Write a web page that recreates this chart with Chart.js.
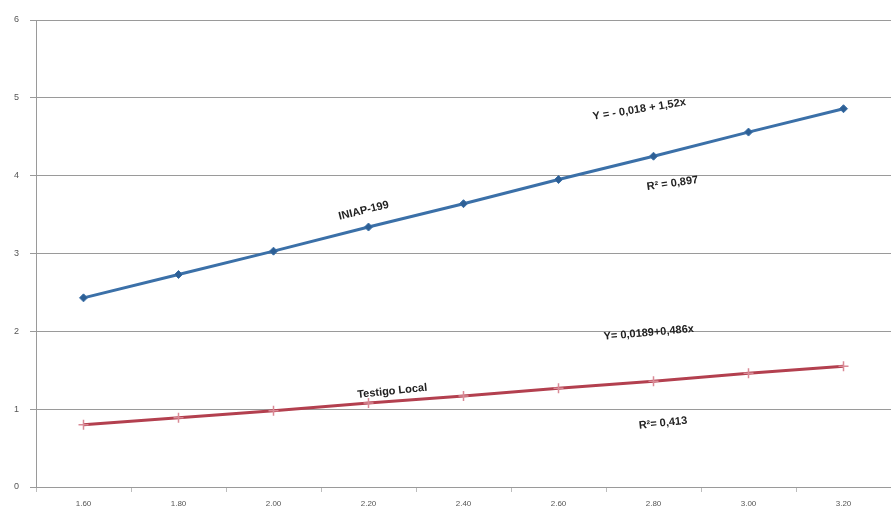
<!DOCTYPE html>
<html>
<head>
<meta charset="utf-8">
<script src="https://cdn.jsdelivr.net/npm/chart.js@4.4.1/dist/chart.umd.min.js"></script>
<style>
  html, body { margin: 0; padding: 0; background: #fff; overflow: hidden; }
  canvas { display: block; }
</style>
</head>
<body>
<canvas id="c" width="891" height="513"></canvas>
<script>
// values
var categories = ['1.60', '1.80', '2.00', '2.20', '2.40', '2.60', '2.80', '3.00', '3.20'];
var iniap = [2.43, 2.73, 3.03, 3.34, 3.64, 3.95, 4.25, 4.56, 4.86];
var testigo = [0.80, 0.89, 0.98, 1.08, 1.17, 1.27, 1.36, 1.46, 1.55];
var yTicks = [0, 1, 2, 3, 4, 5, 6];

// rotated labels written on the plot: x = category index, y = value
var notes = [
  { text: 'INIAP-199', x: 2.95, y: 3.55, rot: -14, size: 11 },
  { text: 'Y = - 0,018 + 1,52x', x: 5.85, y: 4.85, rot: -9, size: 11 },
  { text: 'R² = 0,897', x: 6.2, y: 3.9, rot: -8, size: 11 },
  { text: 'Testigo Local', x: 3.25, y: 1.23, rot: -6, size: 11 },
  { text: 'Y= 0,0189+0,486x', x: 5.95, y: 1.98, rot: -5, size: 11 },
  { text: 'R²= 0,413', x: 6.1, y: 0.82, rot: -6, size: 11 }
];

var notesPlugin = {
  id: 'notes',
  afterDatasetsDraw: function (chart) {
    var ctx = chart.ctx, xs = chart.scales.x, ys = chart.scales.y;
    notes.forEach(function (n) {
      ctx.save();
      ctx.translate(xs.getPixelForValue(n.x), ys.getPixelForValue(n.y));
      ctx.rotate(n.rot * Math.PI / 180);
      ctx.font = 'bold ' + n.size + 'px "Liberation Sans", Arial, sans-serif';
      ctx.fillStyle = '#222';
      ctx.textAlign = 'center';
      ctx.textBaseline = 'middle';
      ctx.fillText(n.text, 0, 0);
      ctx.restore();
    });
  }
};

new Chart(document.getElementById('c'), {
  type: 'line',
  data: {
    labels: categories,
    datasets: [
      {
        label: 'INIAP-199',
        data: iniap,
        borderColor: '#3b70a8',
        backgroundColor: '#2d5f95',
        borderWidth: 3,
        pointStyle: 'rectRot',
        pointRadius: 4,
        pointBorderWidth: 1,
        tension: 0
      },
      {
        label: 'Testigo Local',
        data: testigo,
        borderColor: '#b3404f',
        backgroundColor: '#e8a0aa',
        borderWidth: 3,
        pointStyle: 'cross',
        pointRadius: 5,
        pointBorderColor: '#d98a96',
        pointBorderWidth: 1.5,
        tension: 0
      }
    ]
  },
  options: {
    responsive: false,
    animation: false,
    // autoPadding off so the grid runs to the right edge
    layout: { autoPadding: false, padding: { top: 20, right: 0, left: 0, bottom: 0 } },
    plugins: { legend: { display: false }, tooltip: { enabled: false } },
    scales: {
      x: {
        offset: true,
        grid: {
          display: true,
          drawOnChartArea: false,
          offset: true,
          color: '#bdbdbd',
          tickLength: 5
        },
        border: { color: '#9a9a9a', width: 1 },
        ticks: {
          color: '#555',
          font: { size: 8, family: '"Liberation Sans", Arial, sans-serif' },
          maxRotation: 0,
          padding: 7
        },
        afterFit: function (s) { s.height = 26; }
      },
      y: {
        min: 0,
        max: 6,
        afterBuildTicks: function (s) { s.ticks = yTicks.map(function (v) { return { value: v }; }); },
        grid: { color: '#9a9a9a', lineWidth: 1, tickLength: 6 },
        border: { color: '#9a9a9a', width: 1 },
        ticks: {
          color: '#555',
          font: { size: 9, family: '"Liberation Sans", Arial, sans-serif' },
          padding: 11
        },
        afterFit: function (s) { s.width = 36; }
      }
    }
  },
  plugins: [notesPlugin]
});
</script>
</body>
</html>
